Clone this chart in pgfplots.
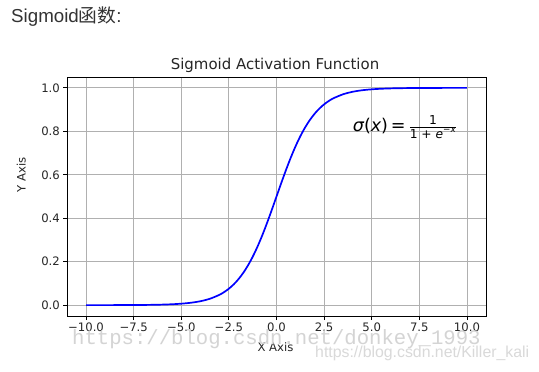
\documentclass[border=0pt]{standalone}
\usepackage{amsmath}
\usepackage{fontspec}
\usepackage{pgfplots}
\pgfplotsset{compat=1.18}
\setmainfont{DejaVu Sans}
\newfontfamily\arialf{Liberation Sans}
\newfontfamily\cjk{Noto Sans CJK SC}
\newfontfamily\wmmono{Liberation Mono}
\begin{document}
\begin{tikzpicture}[x=1bp,y=1bp]
\useasboundingbox (0,0) rectangle (539,371);
\fill[white] (0,0) rectangle (539,371);
\node[anchor=base west, inner sep=0, text=black!80] at (11,349) {\fontsize{18.8}{22}\selectfont\arialf Sigmoid\cjk 函数\arialf :};
\begin{axis}[
  at={(67bp,55bp)}, anchor=south west,
  scale only axis, width=419bp, height=239bp,
  xmin=-11, xmax=11, ymin=-0.05, ymax=1.05,
  xtick={-10,-7.5,-5,-2.5,0,2.5,5,7.5,10},
  xticklabels={−10.0,−7.5,−5.0,−2.5,0.0,2.5,5.0,7.5,10.0},
  ytick={0,0.2,0.4,0.6,0.8,1.0},
  yticklabels={0.0,0.2,0.4,0.6,0.8,1.0},
  tick pos=left, tick align=outside,
  major tick length=4bp,
  tick style={black, line width=0.9bp},
  axis line style={black, line width=0.9bp},
  grid=major,
  grid style={color=black!31, line width=0.9bp},
  ticklabel style={font=\fontsize{11.7}{14}\selectfont, text=black!85},
  xticklabel style={inner sep=3bp},
  yticklabel style={inner sep=3bp},
  clip=false,
]
\addplot[color=blue, line width=1.7bp, smooth] coordinates {
(-10,0.0000454)(-9.5,0.0000749)(-9,0.0001234)(-8.5,0.0002035)(-8,0.0003354)(-7.5,0.000553)(-7,0.000911)(-6.5,0.001501)(-6,0.002473)(-5.5,0.004070)(-5,0.006693)(-4.5,0.010987)(-4,0.017986)(-3.5,0.029312)(-3,0.047426)(-2.75,0.060087)(-2.5,0.075858)(-2.25,0.095349)(-2,0.119203)(-1.75,0.148047)(-1.5,0.182426)(-1.25,0.222700)(-1,0.268941)(-0.75,0.320821)(-0.5,0.377541)(-0.25,0.437823)(0,0.5)(0.25,0.562177)(0.5,0.622459)(0.75,0.679179)(1,0.731059)(1.25,0.777300)(1.5,0.817574)(1.75,0.851953)(2,0.880797)(2.25,0.904651)(2.5,0.924142)(2.75,0.939913)(3,0.952574)(3.5,0.970688)(4,0.982014)(4.5,0.989013)(5,0.993307)(5.5,0.995930)(6,0.997527)(6.5,0.998499)(7,0.999089)(7.5,0.999447)(8,0.999665)(8.5,0.999797)(9,0.999877)(9.5,0.999925)(10,0.999955)
};
\node[anchor=base west, inner sep=0, text=black] at (axis cs:4,0.8) {\fontsize{17.6}{20}\selectfont\itshape σ\upshape(\itshape x\upshape)\,=\,$\frac{\text{\upshape 1}}{\text{\upshape 1 + \itshape e}^{\text{\upshape −\itshape x}}}$};
\end{axis}
\node[anchor=base, inner sep=0, text=black!85] at (275,302) {\fontsize{15}{17}\selectfont Sigmoid Activation Function};
\node[anchor=base, inner sep=0, text=black!85] at (275.5,20) {\fontsize{11.7}{14}\selectfont X Axis};
\node[anchor=base, inner sep=0, rotate=90, text=black!85] at (25.5,196.5) {\fontsize{11.7}{14}\selectfont Y Axis};
\node[anchor=base west, inner sep=0, text=black!17] at (72,27) {\fontsize{20.7}{24}\selectfont\wmmono https://blog.csdn.net/donkey\_1993};
\node[anchor=base west, inner sep=0, text=black!15] at (315,14) {\fontsize{15.9}{18}\selectfont\arialf https://blog.csdn.net/Killer\_kali};
\end{tikzpicture}
\end{document}
